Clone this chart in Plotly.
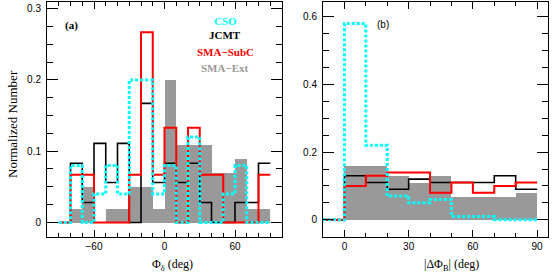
import plotly.graph_objects as go

# ---------------- data ----------------
edges_a = [-90, -80, -70, -60, -50, -40, -30, -20, -10, 0, 10, 20, 30, 40, 50, 60, 70, 80, 90]
cso_a = [0, 0.08, 0, 0.04, 0.08, 0.04, 0.20, 0.20, 0.04, 0.08, 0, 0.12, 0, 0, 0.04, 0.08, 0, 0]
jcmt_a = [0, 0.083, 0.028, 0.111, 0.056, 0.111, 0, 0.167, 0.056, 0.083, 0.056, 0.083, 0.028, 0, 0, 0.028, 0.028, 0.083]
subc_a = [0, 0.067, 0.067, 0, 0, 0, 0.067, 0.267, 0.067, 0.133, 0, 0.133, 0.067, 0.067, 0, 0, 0, 0.067]
ext_a = [0, 0.02, 0.05, 0, 0.02, 0.02, 0.05, 0.05, 0.02, 0.20, 0.11, 0.11, 0.11, 0.07, 0.07, 0.09, 0.02, 0.02]

edges_b = [-10, 0, 10, 20, 30, 40, 50, 60, 70, 80, 90]
cso_b = [0, 0.58, 0.22, 0.07, 0.05, 0.06, 0.01, 0.01, 0, 0]
jcmt_b = [0, 0.13, 0.11, 0.09, 0.12, 0.11, 0.11, 0.11, 0.13, 0.09]
subc_b = [0, 0.10, 0.13, 0.14, 0.14, 0.08, 0.11, 0.08, 0.10, 0.11]
ext_b = [0, 0.16, 0.16, 0.13, 0.11, 0.13, 0.07, 0.07, 0.07, 0.08]

legend_names = ["CSO", "JCMT", "SMA\u2212SubC", "SMA\u2212Ext"]
legend_colors = ["#00FFFF", "#000000", "#FF0000", "#999999"]

W, H = 560, 272
GRAY = "#999999"


def step_xy(edges, vals):
    x = [edges[0]] + edges[:-1] + [edges[-1]]
    y = [0] + list(vals) + [vals[-1]]
    return x, y


def centers(edges):
    return [(edges[i] + edges[i + 1]) / 2 for i in range(len(edges) - 1)]


fig = go.Figure()

panels = [
    ("x", "y", edges_a, cso_a, jcmt_a, subc_a, ext_a),
    ("x2", "y2", edges_b, cso_b, jcmt_b, subc_b, ext_b),
]
for xa, ya, e, cso, jcmt, subc, ext in panels:
    fig.add_trace(go.Bar(x=centers(e), y=ext, width=10, marker=dict(color=GRAY, line=dict(width=0)),
                         xaxis=xa, yaxis=ya, showlegend=False))
    for vals, col, wd, dash in [(jcmt, "#000000", 1.6, "solid"),
                                (subc, "#FF0000", 2.0, "solid"),
                                (cso, "#00FFFF", 3.0, "3px,2px")]:
        x, y = step_xy(e, vals)
        fig.add_trace(go.Scatter(x=x, y=y, mode="lines", line=dict(color=col, width=wd, dash=dash, shape="hv"),
                                 xaxis=xa, yaxis=ya, showlegend=False))

tickfont = dict(family="Liberation Sans", size=10, color="black")
common = dict(showline=True, linecolor="black", linewidth=1, mirror="allticks", ticks="inside",
              tickcolor="black", tickwidth=1, showgrid=False, zeroline=False, tickfont=tickfont)

ybot, ytop = 236.7, 1.5
ydom = [1 - ybot / H, 1 - ytop / H]

fig.update_layout(
    width=W, height=H, margin=dict(l=0, r=0, t=0, b=0),
    paper_bgcolor="white", plot_bgcolor="white", bargap=0,
    xaxis=dict(domain=[47 / W, 282 / W], range=[-100, 100], tick0=0, dtick=60, ticklen=7,
               minor=dict(dtick=10, ticklen=4, ticks="inside", tickcolor="black"), anchor="y", **common),
    yaxis=dict(domain=ydom, range=[-0.02, 0.31], tick0=0, dtick=0.1, ticklen=11, ticklabelstandoff=3,
               minor=dict(dtick=0.025, ticklen=6, ticks="inside", tickcolor="black"), anchor="x", **common),
    xaxis2=dict(domain=[323 / W, 547.8 / W], range=[-10, 95], tick0=0, dtick=30, ticklen=7,
                minor=dict(dtick=10, ticklen=4, ticks="inside", tickcolor="black"), anchor="y2", **common),
    yaxis2=dict(domain=ydom, range=[-0.05, 0.645], tick0=0, dtick=0.2, ticklen=11, ticklabelstandoff=3,
                minor=dict(dtick=0.05, ticklen=6, ticks="inside", tickcolor="black"), anchor="x2", **common),
)

serif = "Liberation Serif"
ann = []


def txt(text, px, py, size, xanchor="center", family=serif, color="black", angle=0):
    ann.append(dict(text=text, x=px / W, y=1 - py / H, xref="paper", yref="paper", showarrow=False,
                    xanchor=xanchor, yanchor="middle", textangle=angle,
                    font=dict(family=family, size=size, color=color)))


ly = [20.7, 35.5, 51.7, 67.7]
for name, col, yy in zip(legend_names, legend_colors, ly):
    txt("<b>%s</b>" % name, 225, yy, 11, color=col)
txt("<b>(a)</b>", 71, 25, 11)
txt("(b)", 383, 24, 10, family="Liberation Sans")

txt("\u03a6<sub>\u03b4</sub> (deg)", 172, 265, 12)
txt("|\u0394\u03a6<sub>B</sub>| (deg)", 451, 265, 12)

txt("Normalized Number", 13, 124, 13, angle=-90)
fig.update_layout(annotations=ann)

fig.write_html("out.html", config={"displayModeBar": False},
               post_script="document.body.style.margin='0';document.body.style.padding='0';")
